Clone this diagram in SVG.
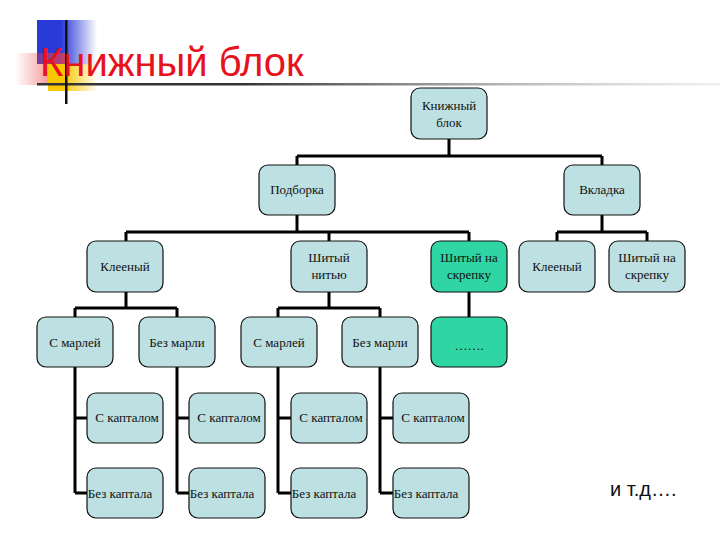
<svg xmlns="http://www.w3.org/2000/svg" width="720" height="540" viewBox="0 0 720 540">
<defs>
<linearGradient id="gb" x1="0" x2="1"><stop offset="0.4" stop-color="#2a3ad8"/><stop offset="1" stop-color="#2a3ad8" stop-opacity="0"/></linearGradient>
<linearGradient id="gr" x1="0" x2="1"><stop offset="0" stop-color="#f04040" stop-opacity="0"/><stop offset="1" stop-color="#f04040" stop-opacity="0.8"/></linearGradient>
<linearGradient id="gy" x1="0" x2="1"><stop offset="0.3" stop-color="#f8c800"/><stop offset="1" stop-color="#f8c800" stop-opacity="0"/></linearGradient>
<linearGradient id="gl" x1="0" x2="1"><stop offset="0.3" stop-color="#333"/><stop offset="1" stop-color="#ccc" stop-opacity="0.3"/></linearGradient>
<style>
.n rect{fill:#bde0e2;stroke:#111;stroke-width:1.2}
.n.g rect{fill:#2fd6a4}
.n text{font-family:"Liberation Serif",serif;font-size:13px;fill:#111;text-anchor:middle}
#c path{fill:none;stroke:#000;stroke-width:3}
</style>
</defs>
<rect x="37" y="20" width="60" height="44" fill="url(#gb)"/>
<rect x="15" y="53" width="52" height="32" fill="url(#gr)"/>
<rect x="48" y="64" width="50" height="27" fill="url(#gy)"/>
<rect x="37" y="83" width="683" height="2.5" fill="url(#gl)"/>
<rect x="65" y="20" width="2.5" height="84" fill="#111"/>
<text x="40" y="76" font-family="Liberation Sans,sans-serif" font-size="40" fill="#e8121c">Книжный блок</text>
<g id="c">
<path d="M449 139V156M297 156H602M297 156V165M602 156V165"/>
<path d="M297 215V232M126 232H469M126 232V241M329 232V241M469 232V241"/>
<path d="M602 215V232M557 232H647M557 232V241M647 232V241"/>
<path d="M126 292V308M75 308H177M75 308V317M177 308V317"/>
<path d="M329 292V308M278 308H380M278 308V317M380 308V317"/>
<path d="M469 292V317"/>
<path d="M75 367V493M75 418H87M75 493H87"/>
<path d="M177 367V493M177 418H189M177 493H189"/>
<path d="M278 367V493M278 418H291M278 493H291"/>
<path d="M380 367V493M380 418H393M380 493H393"/>
</g>
<g id="n-root" class="n"><rect x="411" y="88" width="76" height="51" rx="9"/><text x="449" y="110">Книжный</text><text x="449" y="127">блок</text></g>
<g id="n-podborka" class="n"><rect x="259" y="165" width="76" height="50" rx="9"/><text x="297" y="194">Подборка</text></g>
<g id="n-vkladka" class="n"><rect x="564" y="165" width="76" height="50" rx="9"/><text x="602" y="194">Вкладка</text></g>
<g id="n-kleeny" class="n"><rect x="87" y="241" width="76" height="51" rx="9"/><text x="125" y="271">Клееный</text></g>
<g id="n-nitu" class="n"><rect x="291" y="241" width="76" height="51" rx="9"/><text x="329" y="262">Шитый</text><text x="329" y="279">нитью</text></g>
<g id="n-skrepka" class="n g"><rect x="431" y="241" width="76" height="51" rx="9"/><text x="469" y="262">Шитый на</text><text x="469" y="279">скрепку</text></g>
<g id="n-kleeny2" class="n"><rect x="519" y="241" width="76" height="51" rx="9"/><text x="557" y="271">Клееный</text></g>
<g id="n-skrepka2" class="n"><rect x="609" y="241" width="76" height="51" rx="9"/><text x="647" y="262">Шитый на</text><text x="647" y="279">скрепку</text></g>
<g id="n-m1" class="n"><rect x="37" y="317" width="76" height="50" rx="9"/><text x="75" y="347">С марлей</text></g>
<g id="n-b1" class="n"><rect x="139" y="317" width="76" height="50" rx="9"/><text x="177" y="347">Без марли</text></g>
<g id="n-m2" class="n"><rect x="241" y="317" width="76" height="50" rx="9"/><text x="279" y="347">С марлей</text></g>
<g id="n-b2" class="n"><rect x="342" y="317" width="76" height="50" rx="9"/><text x="380" y="347">Без марли</text></g>
<g id="n-dots" class="n g"><rect x="431" y="317" width="76" height="50" rx="9"/><text x="469" y="350">…….</text></g>
<g id="n-k1" class="n"><rect x="87" y="393" width="76" height="50" rx="9"/><text x="127" y="422">С капталом</text></g>
<g id="n-k2" class="n"><rect x="189" y="393" width="76" height="50" rx="9"/><text x="229" y="422">С капталом</text></g>
<g id="n-k3" class="n"><rect x="291" y="393" width="76" height="50" rx="9"/><text x="331" y="422">С капталом</text></g>
<g id="n-k4" class="n"><rect x="393" y="393" width="76" height="50" rx="9"/><text x="433" y="422">С капталом</text></g>
<g id="n-bk1" class="n"><rect x="87" y="468" width="76" height="50" rx="9"/><text x="120" y="498">Без каптала</text></g>
<g id="n-bk2" class="n"><rect x="189" y="468" width="76" height="50" rx="9"/><text x="222" y="498">Без каптала</text></g>
<g id="n-bk3" class="n"><rect x="291" y="468" width="76" height="50" rx="9"/><text x="324" y="498">Без каптала</text></g>
<g id="n-bk4" class="n"><rect x="393" y="468" width="76" height="50" rx="9"/><text x="426" y="498">Без каптала</text></g>
<text x="610" y="496" font-family="Liberation Sans,sans-serif" font-size="20" fill="#111">и т.д….</text>
</svg>
